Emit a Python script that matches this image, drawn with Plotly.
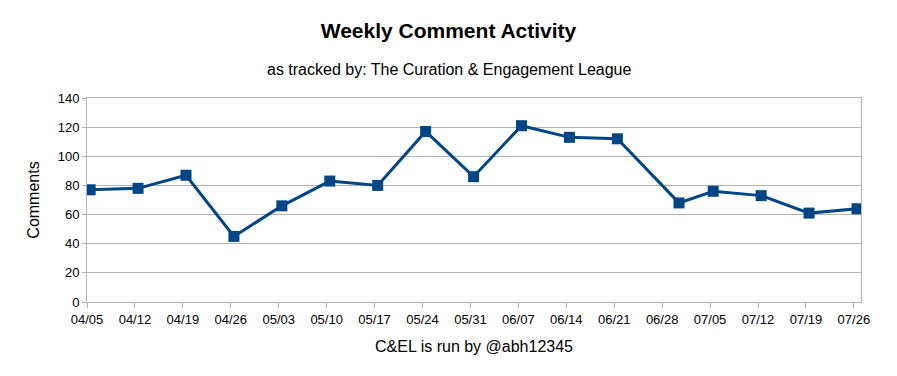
import plotly.graph_objects as go

weeks = ["2020-04-05", "2020-04-12", "2020-04-19", "2020-04-26", "2020-05-03",
         "2020-05-10", "2020-05-17", "2020-05-24", "2020-05-31", "2020-06-07",
         "2020-06-14", "2020-06-21", "2020-06-30", "2020-07-05", "2020-07-12",
         "2020-07-19", "2020-07-26"]
comments = [77, 78, 87, 45, 66, 83, 80, 117, 86, 121, 113, 112, 68, 76, 73, 61, 64]
y_ticks = [0, 20, 40, 60, 80, 100, 120, 140]

x_vals = [w + " 11:00" for w in weeks]

FONT = "Liberation Sans, Arial, sans-serif"
GRID = "#b3b3b3"
BLUE = "#004586"

# page body has an 8px margin; compensate
W, H = 889, 368
fig = go.Figure()
fig.add_trace(go.Scatter(
    x=x_vals, y=comments, mode="lines+markers",
    line=dict(color=BLUE, width=3),
    marker=dict(symbol="square", size=11, color=BLUE),
    showlegend=False,
))

fig.update_layout(
    width=W, height=H,
    margin=dict(l=79, r=36, t=90, b=74),
    paper_bgcolor="white", plot_bgcolor="white",
    font=dict(family=FONT, color="#000"),
    title=dict(text="<b>Weekly Comment Activity</b>", x=(448.5 - 8) / W, xanchor="center",
               y=1 - 23 / H, yanchor="middle", yref="container",
               font=dict(size=21, family=FONT, color="#000")),
    annotations=[dict(text="as tracked by: The Curation & Engagement League",
                      xref="paper", yref="paper", x=(448.5 - 87) / 774, y=(301.7 - 70) / 203.4,
                      xanchor="center", yanchor="middle", showarrow=False,
                      font=dict(size=16, family=FONT, color="#000"))],
    xaxis=dict(
        type="date", range=["2020-04-05", "2020-07-27 01:00"],
        tick0="2020-04-05", dtick=7 * 86400000, tickformat="%m/%d",
        ticks="outside", ticklen=5, tickcolor=GRID,
        showgrid=False, showline=True, linecolor=GRID, mirror=True,
        tickfont=dict(size=13, family=FONT, color="#000"),
        title=dict(text="C&EL is run by @abh12345", standoff=15,
                   font=dict(size=16, family=FONT, color="#000")),
    ),
    yaxis=dict(
        range=[0, 140], tickvals=y_ticks,
        ticks="outside", ticklen=4, tickcolor=GRID,
        showgrid=True, gridcolor=GRID, gridwidth=1,
        showline=True, linecolor=GRID, mirror=True, zeroline=False,
        tickfont=dict(size=13, family=FONT, color="#000"),
        title=dict(text="Comments", standoff=14,
                   font=dict(size=16, family=FONT, color="#000")),
    ),
)

fig.write_html("out.html")
